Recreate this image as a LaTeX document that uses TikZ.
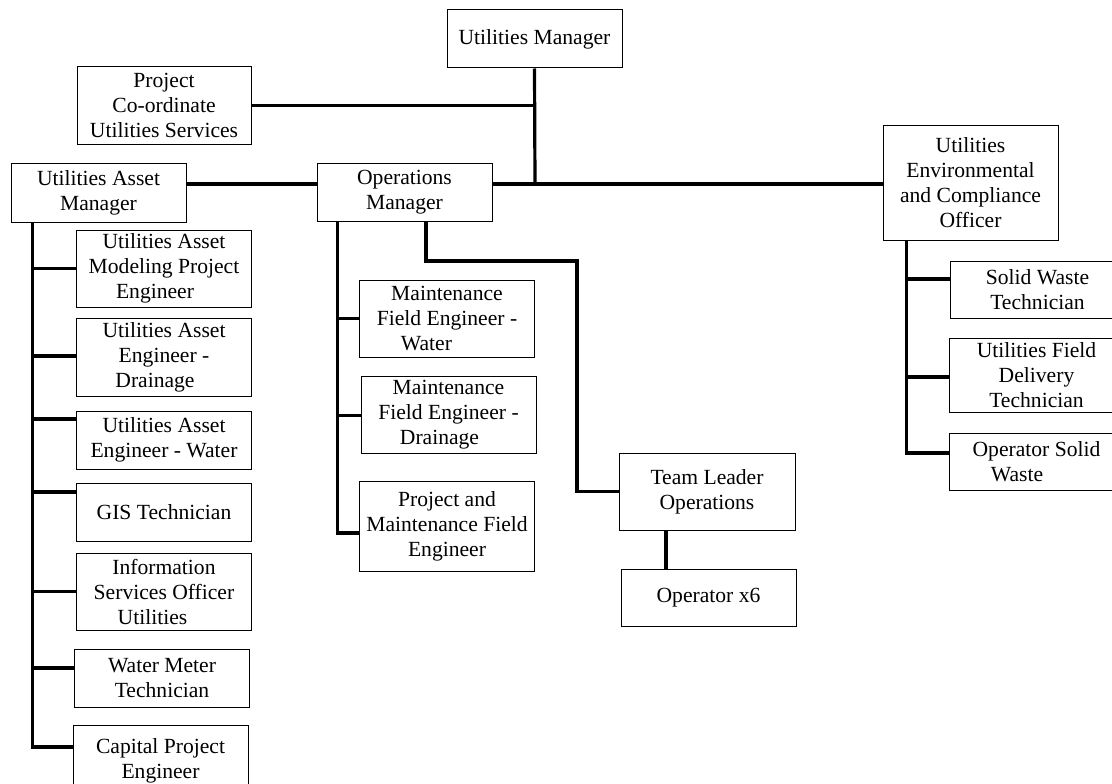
\documentclass[tikz,border=0pt]{standalone}
\usepackage{fontspec}
\setmainfont{Liberation Serif}
\usepackage{tikz}
\usetikzlibrary{positioning,calc}

\begin{document}
\begin{tikzpicture}[
        x=1pt, y=-1pt,
        font=\fontsize{21.6}{25}\selectfont,
        post/.style={rectangle, draw, line width=1pt, align=center, inner sep=2pt, minimum width=175pt},
        link/.style={line width=3.2pt}
    ]
        \clip (0,0) rectangle (1112,784);

        % Top level
        \node[post, minimum height=58pt] (um) at (534.5,39) {Utilities Manager};
        \node[post, minimum width=174pt, minimum height=77pt] (proj) at (164,105.5) {Project\\Co-ordinate\\Utilities Services};
        \node[post, minimum height=59pt] (uam) at (98.5,192.5) {Utilities Asset\\Manager};
        \node[post, minimum height=58pt] (om) at (404.5,192) {Operations\\Manager};
        \node[post, minimum height=115pt] (ueco) at (970.5,182.5) {Utilities\\Environmental\\and Compliance\\Officer};

        % Asset team
        \node[post, minimum height=77pt] (m1) at (164,268.5) {Utilities Asset\\Modeling Project\\Engineer\hspace*{18pt}};
        \node[post, minimum height=78pt] (m2) at (164,357) {Utilities Asset\\Engineer -\\Drainage\hspace*{18pt}};
        \node[post, minimum height=58pt] (m3) at (164,440) {Utilities Asset\\Engineer - Water};
        \node[post, minimum height=58pt] (m4) at (164,512) {GIS Technician};
        \node[post, minimum height=77pt] (m5) at (164,591.5) {Information\\Services Officer\\Utilities\hspace*{23pt}};
        \node[post, minimum height=58pt] (m6) at (162,678) {Water Meter\\Technician};
        \node[post, minimum height=72pt] (m7) at (160.5,761) {Capital Project\\Engineer};

        % Operations team
        \node[post, minimum height=77pt] (e1) at (447,318.5) {Maintenance\\Field Engineer -\\Water\hspace*{41pt}};
        \node[post, minimum height=77pt] (e2) at (448.5,414.5) {Maintenance\\Field Engineer -\\Drainage\hspace*{18pt}};
        \node[post, minimum height=90pt] (e3) at (447,526) {Project and\\Maintenance Field\\Engineer};
        \node[post, minimum width=176pt, minimum height=77pt] (tl) at (707,491.5) {Team Leader\\Operations};
        \node[post, minimum height=57pt] (op) at (708.5,597.5) {Operator x6};

        % Compliance team
        \node[post, minimum height=57pt] (s1) at (1037.5,290) {Solid Waste\\Technician};
        \node[post, minimum height=74pt] (s2) at (1036.5,375) {Utilities Field\\Delivery\\Technician};
        \node[post, minimum height=57pt] (s3) at (1036.5,461.5) {Operator Solid\\Waste\hspace*{39pt}};

        % Junctions
        \coordinate (hub) at (535,184);
        \coordinate (turn) at (577,261);
        \coordinate (lt) at ([xshift=22pt]uam.south west);
        \coordinate (ot) at ([xshift=21pt]om.south west);
        \coordinate (rt) at ([xshift=24pt]ueco.south west);

        % Main lines
        \draw[link] (um.south) -- (hub);
        \draw[link] (proj.east) -- (proj.east -| hub);
        \draw[link] (uam.east |- hub) -- (om.west |- hub);
        \draw[link] (om.east |- hub) -- (ueco.west |- hub);

        % Branches
        \foreach \n/\dy in {m1/0,m2/1,m3/21,m4/20,m5/0,m6/10,m7/14}
            \draw[link] ([yshift=\dy pt]\n.west) -| (lt);
        \foreach \n/\dy in {e1/0,e2/-1,e3/-7}
            \draw[link] ([yshift=\dy pt]\n.west) -| (ot);
        \foreach \n/\dy in {s1/11,s2/-2,s3/8.5}
            \draw[link] ([yshift=\dy pt]\n.west) -| (rt);
        \draw[link] ([xshift=21.5pt]om.south) |- (turn) |- (tl.west);
        \draw[link] ([xshift=-41pt]tl.south) -- ([xshift=-42.5pt]op.north);

    \end{tikzpicture}
\end{document}
